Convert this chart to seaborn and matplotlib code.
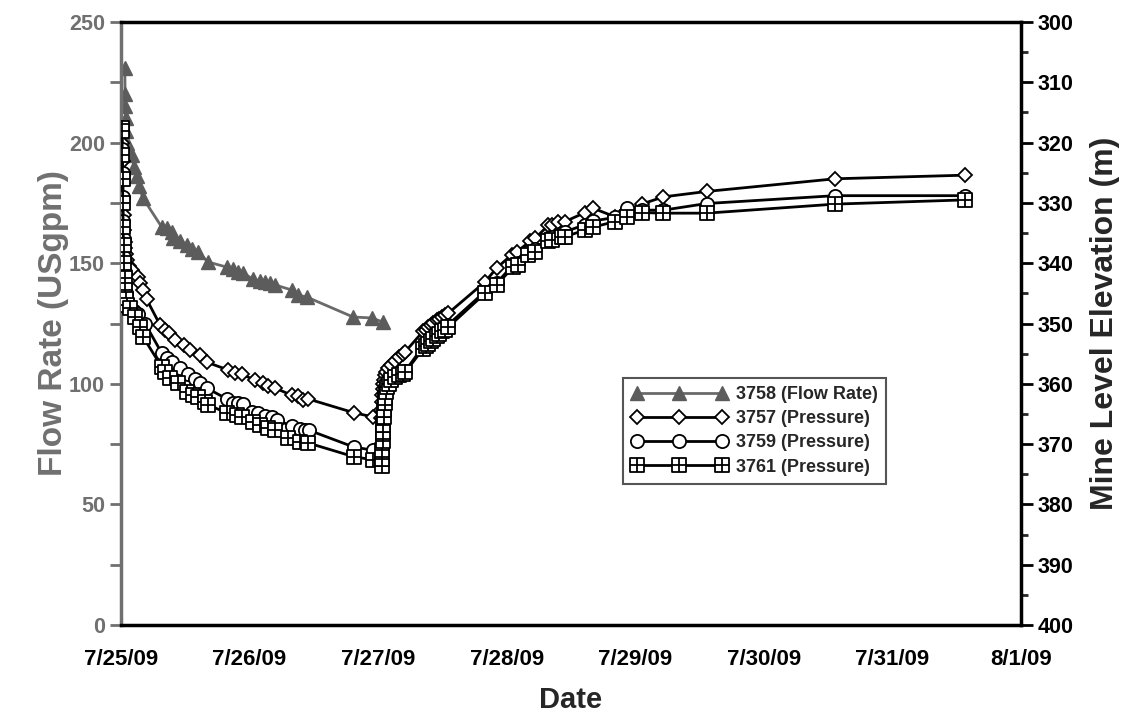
import numpy as np
import matplotlib
matplotlib.use("Agg")
import matplotlib.pyplot as plt
from matplotlib.path import Path
from matplotlib.ticker import MultipleLocator
import seaborn as sns

# time is in days since 7/25/09 00:00
date_labels = ["7/25/09", "7/26/09", "7/27/09", "7/28/09", "7/29/09", "7/30/09", "7/31/09", "8/1/09"]

# 3758 flow rate (USgpm), left axis
flow_days = [0.030, 0.032, 0.034, 0.037, 0.040, 0.045, 0.083, 0.101, 0.122, 0.140, 0.171,
             0.317, 0.356, 0.394, 0.404, 0.459, 0.511, 0.550, 0.599, 0.677, 0.822, 0.871,
             0.910, 0.949, 1.026, 1.081, 1.120, 1.159, 1.198, 1.328, 1.377, 1.444, 1.805,
             1.950, 2.038]
flow_rate = [231, 220, 215, 210, 205, 200, 195, 190, 186, 182, 177,
             165, 164.6, 163, 160.5, 159, 157.5, 156, 154.7, 150.5, 148.4, 147.6,
             146.4, 146, 143.4, 142.6, 142.2, 141.8, 141, 138.9, 136.8, 136, 127.7,
             127.3, 125.6]

# 3757 pressure -> mine level elevation (m), right axis
p3757_days = [0.005, 0.008, 0.010, 0.012, 0.014, 0.017, 0.020, 0.024, 0.028, 0.033, 0.040,
              0.050, 0.065, 0.086, 0.130, 0.148, 0.171, 0.200, 0.303, 0.342, 0.370, 0.420,
              0.488, 0.537, 0.614, 0.666, 0.832, 0.887, 0.939, 1.042, 1.104, 1.143, 1.198,
              1.328, 1.377, 1.416, 1.454, 1.812, 1.962, 2.024, 2.026, 2.028, 2.031, 2.035,
              2.040, 2.046, 2.055, 2.065, 2.080, 2.100, 2.130, 2.160, 2.190, 2.210, 2.350,
              2.370, 2.390, 2.410, 2.430, 2.455, 2.475, 2.500, 2.520, 2.545, 2.831, 2.922,
              3.039, 3.078, 3.181, 3.220, 3.324, 3.350, 3.401, 3.453, 3.609, 3.674, 3.842,
              3.920, 4.050, 4.218, 4.555, 5.553, 6.564]
p3757_elev = [317.5, 318, 320, 323, 326, 329, 332, 334.5, 336.5, 337.5, 338.5,
              339.5, 340.5, 341.2, 342.3, 343.3, 344.4, 346, 350.2, 351, 351.6, 352.7,
              353.6, 354.4, 355.2, 356.4, 357.7, 358.2, 358.4, 359.4, 359.9, 360.4, 360.7,
              361.9, 362.1, 362.7, 362.5, 364.8, 365.5, 365.7, 364.3, 363, 361.8, 360.8,
              360, 359.3, 358.6, 358, 357.4, 356.8, 356.2, 355.6, 355.1, 354.7, 351.3,
              351, 350.6, 350.3, 349.9, 349.5, 349.2, 348.9, 348.6, 348.3, 343.1, 340.8,
              338.6, 338.1, 336.4, 335.9, 333.7, 333.7, 333.1, 333.1, 331.6, 330.9, 332.3,
              331.5, 330.2, 329, 328.1, 326, 325.4]

# 3759 pressure
p3759_days = [0.005, 0.008, 0.010, 0.012, 0.014, 0.017, 0.020, 0.024, 0.028, 0.033, 0.040,
              0.050, 0.070, 0.100, 0.135, 0.187, 0.317, 0.355, 0.394, 0.459, 0.521, 0.576,
              0.614, 0.667, 0.822, 0.871, 0.910, 0.949, 1.017, 1.066, 1.120, 1.172, 1.211,
              1.328, 1.392, 1.431, 1.462, 1.812, 1.958, 2.028, 2.030, 2.032, 2.034, 2.036,
              2.039, 2.043, 2.048, 2.055, 2.062, 2.072, 2.085, 2.100, 2.130, 2.160, 2.190,
              2.210, 2.350, 2.370, 2.390, 2.410, 2.430, 2.455, 2.475, 2.500, 2.520, 2.545,
              2.831, 2.922, 3.052, 3.091, 3.169, 3.220, 3.324, 3.350, 3.427, 3.453, 3.609,
              3.674, 3.842, 3.933, 4.050, 4.218, 4.555, 5.553, 6.564]
p3759_elev = [317.5, 318, 321, 325, 329, 333, 336, 339, 341.5, 343.5, 345,
              346.3, 347.3, 348, 348.5, 350, 354.9, 355.7, 356.4, 357.4, 358.4, 359.2,
              359.9, 360.7, 362.5, 363.2, 363.2, 363.3, 364.7, 364.8, 365.3, 365.5, 366,
              367, 367.5, 367.6, 367.7, 370.5, 371, 371, 370, 369, 367.8, 366.6,
              365.4, 364.2, 363.2, 362.2, 361.4, 360.6, 360, 359.4, 358.9, 358.5, 358.2,
              357.9, 353.8, 353.4, 353, 352.5, 352.1, 351.7, 351.3, 350.9, 350.6, 350.2,
              344.7, 343.3, 340.2, 339.9, 338.2, 337.6, 335.9, 335.6, 335.0, 334.8, 333.6,
              333.0, 332.4, 330.9, 331.2, 331.2, 330.1, 328.8, 328.8]

# 3761 pressure
p3761_days = [0.005, 0.008, 0.010, 0.012, 0.014, 0.017, 0.020, 0.024, 0.028, 0.033, 0.040,
              0.050, 0.070, 0.109, 0.148, 0.171, 0.317, 0.342, 0.381, 0.443, 0.511, 0.560,
              0.599, 0.653, 0.677, 0.822, 0.900, 0.939, 1.027, 1.081, 1.143, 1.198, 1.299,
              1.392, 1.454, 1.812, 1.958, 2.030, 2.032, 2.034, 2.036, 2.038, 2.040, 2.043,
              2.046, 2.050, 2.055, 2.062, 2.072, 2.085, 2.100, 2.130, 2.160, 2.190, 2.210,
              2.350, 2.370, 2.390, 2.410, 2.430, 2.455, 2.475, 2.500, 2.520, 2.545, 2.831,
              2.922, 3.052, 3.091, 3.169, 3.220, 3.324, 3.350, 3.427, 3.453, 3.609, 3.674,
              3.842, 3.933, 4.050, 4.218, 4.555, 5.553, 6.564]
p3761_elev = [317.5, 318, 322, 326, 330, 334, 337, 340, 342.5, 344.5, 346,
              347, 347.5, 349, 350.6, 352.2, 357.2, 358, 359, 359.9, 361.4, 361.9,
              362.2, 363, 363.5, 364.8, 365.2, 365.5, 366.3, 366.8, 367.3, 367.7, 369,
              369.7, 369.8, 372.1, 372.6, 373.7, 372.5, 371, 369.5, 368, 366.8, 365.5,
              364.3, 363.2, 362.3, 361.4, 360.6, 360, 359.4, 358.9, 358.6, 358.4, 358.1,
              354.2, 353.8, 353.4, 352.9, 352.5, 352, 351.7, 351.3, 351, 350.6, 345,
              343.6, 340.6, 340.3, 338.6, 338.1, 336.4, 336.2, 335.6, 335.6, 334.5, 334,
              333.1, 332.3, 331.6, 331.7, 331.7, 330.2, 329.5]

sns.set_style("white")
plt.rcParams['font.family'] = ['Liberation Sans', 'DejaVu Sans']
plt.rcParams['font.weight'] = 'bold'

grey = '#707070'

# square with a cross in it
boxplus = Path([(-1, -1), (1, -1), (1, 1), (-1, 1), (-1, -1), (0, -1), (0, 1), (-1, 0), (1, 0)],
               [Path.MOVETO, Path.LINETO, Path.LINETO, Path.LINETO, Path.CLOSEPOLY,
                Path.MOVETO, Path.LINETO, Path.MOVETO, Path.LINETO])

fig, ax = plt.subplots(figsize=(11.38, 7.15), dpi=100)
fig.subplots_adjust(left=0.1063, right=0.8972, bottom=0.1259, top=0.9692)
ax2 = ax.twinx()

sns.lineplot(x=flow_days, y=flow_rate, ax=ax, color='#6a6a6a', linewidth=2,
             marker='^', markersize=9.5, markerfacecolor='#5c5c5c', markeredgecolor='#5c5c5c',
             markeredgewidth=1, label='3758 (Flow Rate)')

common = dict(ax=ax2, color='black', linewidth=2, markerfacecolor='white',
              markeredgecolor='black', markeredgewidth=1.3)
sns.lineplot(x=p3757_days, y=p3757_elev, marker='D', markersize=7,
             label='3757 (Pressure)', **common)
sns.lineplot(x=p3759_days, y=p3759_elev, marker='o', markersize=9.5,
             label='3759 (Pressure)', **common)
sns.lineplot(x=p3761_days, y=p3761_elev, marker=boxplus, markersize=9.5,
             label='3761 (Pressure)', **common)

for a in (ax, ax2):
    if a.get_legend() is not None:
        a.get_legend().remove()

# x axis
ax.set_xlim(0, 7)
ax.set_xticks(range(len(date_labels)))
ax.set_xticklabels(date_labels)
ax.xaxis.set_minor_locator(MultipleLocator(0.5))
ax.set_xlabel('Date', fontsize=21, fontweight='bold', labelpad=12)
ax.tick_params(axis='x', which='major', direction='out', length=11, width=2,
               labelsize=16, pad=6, colors='black')
ax.tick_params(axis='x', which='minor', direction='out', length=7, width=2)

# left axis
ax.set_ylim(0, 250)
ax.yaxis.set_major_locator(MultipleLocator(50))
ax.yaxis.set_minor_locator(MultipleLocator(25))
ax.set_ylabel('Flow Rate (USgpm)', fontsize=24, fontweight='bold', color=grey, labelpad=0)
ax.tick_params(axis='y', which='both', direction='out', length=8, width=2,
               color=grey, labelcolor=grey, labelsize=15.5, left=True)

# right axis
ax2.set_ylim(400, 300)
ax2.yaxis.set_major_locator(MultipleLocator(10))
ax2.yaxis.set_minor_locator(MultipleLocator(5))
ax2.set_ylabel('Mine Level Elevation (m)', fontsize=23, fontweight='bold', labelpad=12)
ax2.tick_params(axis='y', which='major', direction='out', length=8.5, width=2,
                labelsize=15.5, colors='black', right=True)
ax2.tick_params(axis='y', which='minor', direction='out', length=5, width=2, right=True)

for a in (ax, ax2):
    for s in a.spines.values():
        s.set_linewidth(2.5)
        s.set_color('black')
ax.spines['left'].set_color(grey)
ax.spines['right'].set_visible(False)
ax2.spines['left'].set_visible(False)
ax2.spines['top'].set_visible(False)
ax2.spines['bottom'].set_visible(False)

for lab in ax.get_xticklabels() + ax.get_yticklabels() + ax2.get_yticklabels():
    lab.set_fontweight('bold')

h1, l1 = ax.get_legend_handles_labels()
h2, l2 = ax2.get_legend_handles_labels()
leg = ax2.legend(h1 + h2, l1 + l2, loc='upper left', bbox_to_anchor=(0.558, 0.41),
                 borderaxespad=0, numpoints=3, handlelength=5.3, handletextpad=0.5,
                 labelspacing=0.4, borderpad=0.45, fancybox=False, framealpha=1,
                 prop={'size': 13, 'weight': 'bold'})
leg.get_frame().set_edgecolor('#555555')
leg.get_frame().set_linewidth(1.5)

fig.savefig('out.png', dpi=100)
